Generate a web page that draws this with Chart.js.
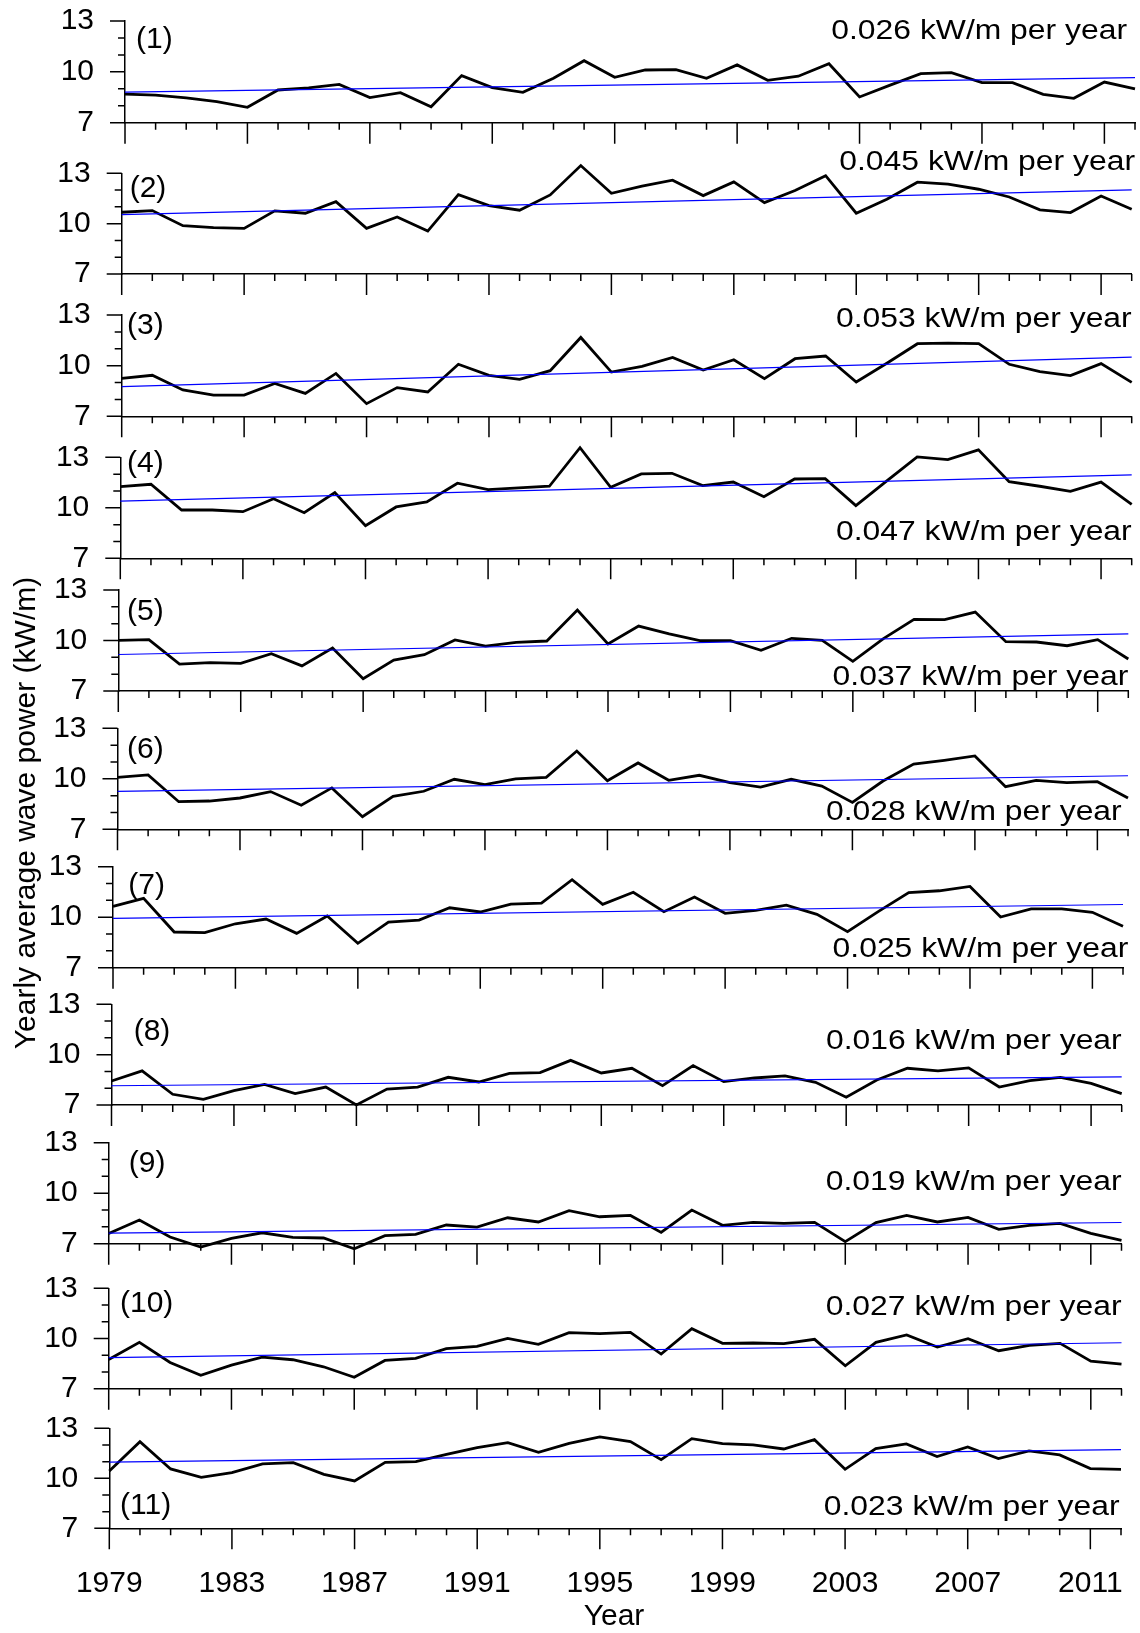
<!DOCTYPE html>
<html>
<head>
<meta charset="utf-8">
<title>Yearly average wave power</title>
<script src="https://cdn.jsdelivr.net/npm/chart.js@4.4.1/dist/chart.umd.min.js"></script>
<style>
  html, body { margin: 0; padding: 0; background: #fff; }
  #wrap { position: relative; width: 1140px; height: 1633px; }
  #wrap canvas { position: absolute; left: 0; top: 0; }
</style>
</head>
<body>
<div id="wrap"></div>
<script>
const years = [1979, 1980, 1981, 1982, 1983, 1984, 1985, 1986, 1987, 1988, 1989,
  1990, 1991, 1992, 1993, 1994, 1995, 1996, 1997, 1998, 1999, 2000,
  2001, 2002, 2003, 2004, 2005, 2006, 2007, 2008, 2009, 2010, 2011, 2012];

// yearly average wave power (kW/m) at each of the 11 points
const site1 = [8.69, 8.63, 8.46, 8.24, 7.91, 8.93, 9.05, 9.26, 8.48, 8.77, 7.94, 9.78, 9.07, 8.79, 9.62, 10.66, 9.68,
  10.11, 10.13, 9.62, 10.41, 9.50, 9.74, 10.48, 8.52, 9.22, 9.89, 9.95, 9.36, 9.36, 8.67, 8.44, 9.40, 8.99];
const site2 = [10.68, 10.78, 9.88, 9.76, 9.72, 10.76, 10.62, 11.31, 9.72, 10.40, 9.56, 11.73, 11.08, 10.80, 11.71, 13.46, 11.81,
  12.23, 12.59, 11.67, 12.49, 11.25, 11.97, 12.86, 10.62, 11.45, 12.47, 12.35, 12.05, 11.59, 10.82, 10.66, 11.65, 10.86];
const site3 = [9.25, 9.43, 8.56, 8.26, 8.26, 8.95, 8.36, 9.54, 7.75, 8.70, 8.44, 10.08, 9.43, 9.19, 9.70, 11.67, 9.62,
  9.96, 10.49, 9.74, 10.35, 9.23, 10.41, 10.57, 9.03, 10.14, 11.30, 11.34, 11.30, 10.08, 9.64, 9.41, 10.12, 9.01];
const site4 = [11.26, 11.40, 9.87, 9.87, 9.77, 10.54, 9.71, 10.90, 8.94, 10.05, 10.35, 11.46, 11.08, 11.18, 11.28, 13.57, 11.22,
  12.01, 12.05, 11.32, 11.53, 10.66, 11.71, 11.73, 10.13, 11.59, 13.02, 12.86, 13.44, 11.55, 11.28, 10.98, 11.53, 10.21];
const site5 = [10.01, 10.05, 8.60, 8.68, 8.64, 9.22, 8.49, 9.55, 7.73, 8.84, 9.16, 10.03, 9.67, 9.89, 9.97, 11.81, 9.79,
  10.86, 10.39, 9.99, 9.99, 9.42, 10.13, 10.01, 8.76, 10.11, 11.26, 11.24, 11.69, 9.93, 9.91, 9.69, 10.05, 8.90];
const site6 = [10.09, 10.23, 8.64, 8.68, 8.86, 9.24, 8.43, 9.46, 7.75, 8.96, 9.26, 9.97, 9.65, 9.99, 10.09, 11.65, 9.89,
  10.94, 9.91, 10.21, 9.77, 9.51, 9.97, 9.57, 8.60, 9.87, 10.88, 11.10, 11.36, 9.53, 9.91, 9.77, 9.83, 8.86];
const site7 = [10.64, 11.12, 9.12, 9.08, 9.61, 9.89, 9.04, 10.07, 8.45, 9.71, 9.83, 10.56, 10.31, 10.78, 10.84, 12.23, 10.76,
  11.48, 10.33, 11.20, 10.23, 10.41, 10.72, 10.17, 9.14, 10.33, 11.46, 11.57, 11.83, 10.01, 10.49, 10.49, 10.29, 9.46];
const site8 = [8.43, 9.03, 7.64, 7.34, 7.85, 8.23, 7.68, 8.07, 7.00, 7.95, 8.07, 8.65, 8.37, 8.89, 8.93, 9.66, 8.91,
  9.19, 8.15, 9.35, 8.39, 8.61, 8.73, 8.35, 7.46, 8.49, 9.19, 9.03, 9.21, 8.07, 8.45, 8.65, 8.29, 7.68];
const site9 = [7.61, 8.41, 7.40, 6.80, 7.32, 7.65, 7.38, 7.34, 6.70, 7.48, 7.55, 8.11, 7.99, 8.54, 8.29, 8.96, 8.60,
  8.68, 7.67, 9.00, 8.09, 8.27, 8.21, 8.27, 7.12, 8.25, 8.68, 8.29, 8.56, 7.85, 8.09, 8.21, 7.61, 7.20];
const site10 = [8.75, 9.77, 8.57, 7.80, 8.41, 8.89, 8.73, 8.31, 7.68, 8.69, 8.81, 9.39, 9.53, 10.01, 9.65, 10.35, 10.29,
  10.37, 9.07, 10.59, 9.71, 9.73, 9.69, 9.95, 8.37, 9.77, 10.21, 9.49, 9.99, 9.27, 9.59, 9.71, 8.65, 8.47];
const site11 = [10.44, 12.20, 10.56, 10.06, 10.34, 10.86, 10.94, 10.24, 9.84, 10.96, 11.00, 11.44, 11.84, 12.14, 11.56, 12.10, 12.48,
  12.20, 11.12, 12.38, 12.08, 12.00, 11.76, 12.32, 10.54, 11.78, 12.06, 11.30, 11.88, 11.18, 11.64, 11.40, 10.58, 10.54];

const series = [site1, site2, site3, site4, site5, site6, site7, site8, site9, site10, site11];
const trendSlopes = [0.026, 0.045, 0.053, 0.047, 0.037, 0.028, 0.025, 0.016, 0.019, 0.027, 0.023];
const yTicks = [7, 10, 13];

const W = 1140, H = 1633;
const FONT = "'Liberation Sans', Arial, Helvetica, sans-serif";

// plot box [left, top, right, bottom], panel tag [x, y], slope note [right x, y]
const layout = [
  { box: [125, 21, 1135, 122.7],        tag: [136, 41.5],    note: [1127, 31.2] },
  { box: [121.7, 173.3, 1131.7, 274],   tag: [129.7, 190.5], note: [1135, 162.7] },
  { box: [121.7, 315, 1131.7, 416.3],   tag: [127, 327.5],   note: [1131.7, 319.2] },
  { box: [120.3, 457.3, 1131.7, 558.3], tag: [127, 465.5],   note: [1131.7, 532.3] },
  { box: [118.3, 590, 1128.3, 691],     tag: [127, 614],     note: [1128.3, 677.3] },
  { box: [117.5, 728.3, 1128, 829.3],   tag: [127, 751.7],   note: [1121.7, 812.5] },
  { box: [113, 866.7, 1123, 967.7],     tag: [128.3, 887.5], note: [1128.3, 950] },
  { box: [111.5, 1004.3, 1121.7, 1105], tag: [133.7, 1033.3], note: [1121.7, 1042] },
  { box: [108.7, 1142.7, 1121.5, 1243.7], tag: [128.8, 1165.8], note: [1121.5, 1183] },
  { box: [108.7, 1288.3, 1121.5, 1388.7], tag: [120, 1305.8], note: [1121.5, 1307.5] },
  { box: [109.3, 1428.3, 1121, 1528.3], tag: [120, 1507.5],  note: [1119.5, 1507.5] }
];

// trend line with the given slope, passing through the series mean
function trendLine(vals, slope) {
  const mx = years.reduce((s, v) => s + v, 0) / years.length;
  const my = vals.reduce((s, v) => s + v, 0) / vals.length;
  const b = my - slope * mx;
  const x0 = years[0], x1 = years[years.length - 1];
  return [{ x: x0, y: b + slope * x0 }, { x: x1, y: b + slope * x1 }];
}

// long/short tick marks on both axes
const tickMarks = {
  id: 'tickMarks',
  afterDraw(chart) {
    const { ctx, chartArea: a } = chart;
    const xs = chart.scales.x, ys = chart.scales.y;
    ctx.save();
    ctx.strokeStyle = '#000';
    ctx.lineWidth = 1.5;
    ctx.beginPath();
    years.forEach(yr => {
      const px = xs.getPixelForValue(yr);
      const len = (yr - years[0]) % 4 === 0 ? 21 : 7;
      ctx.moveTo(px, a.bottom);
      ctx.lineTo(px, a.bottom + len);
    });
    for (let v = yTicks[0]; v <= yTicks[yTicks.length - 1]; v++) {
      const py = ys.getPixelForValue(v);
      const len = yTicks.includes(v) ? 15 : 7;
      ctx.moveTo(a.left, py);
      ctx.lineTo(a.left - len, py);
    }
    ctx.stroke();
    ctx.restore();
  }
};

// "(n)" tag and the trend note of each panel
const panelText = {
  id: 'panelText',
  afterDraw(chart, args, opts) {
    const ctx = chart.ctx;
    ctx.save();
    ctx.fillStyle = '#000';
    ctx.textBaseline = 'middle';
    ctx.font = '30px ' + FONT;
    ctx.textAlign = 'left';
    ctx.fillText(opts.tag, opts.tagX, opts.tagY - 2);
    ctx.font = '27px ' + FONT;
    ctx.translate(opts.noteX, opts.noteY);
    ctx.scale(1.18, 1);
    ctx.textAlign = 'right';
    ctx.fillText(opts.note, 0, 0);
    ctx.restore();
  }
};

// shared axis titles, drawn once on the bottom panel
const axisTitles = {
  id: 'axisTitles',
  afterDraw(chart) {
    const ctx = chart.ctx;
    ctx.save();
    ctx.fillStyle = '#000';
    ctx.font = '30px ' + FONT;
    ctx.textAlign = 'center';
    ctx.textBaseline = 'middle';
    ctx.fillText('Year', 614, 1617);
    ctx.translate(27, 813);
    ctx.rotate(-Math.PI / 2);
    ctx.fillText('Yearly average wave power (kW/m)', 0, 0);
    ctx.restore();
  }
};

const wrap = document.getElementById('wrap');
const hidden = 'rgba(0,0,0,0)';

series.forEach((vals, i) => {
  const [L, T, R, B] = layout[i].box;
  const last = i === series.length - 1;
  const canvas = document.createElement('canvas');
  canvas.width = W;
  canvas.height = H;
  wrap.appendChild(canvas);

  const plugins = [tickMarks, panelText];
  if (last) plugins.push(axisTitles);

  new Chart(canvas, {
    type: 'line',
    data: {
      datasets: [
        {
          data: trendLine(vals, trendSlopes[i]),
          borderColor: '#0000ff',
          borderWidth: 1.2,
          pointRadius: 0,
          clip: 20
        },
        {
          data: years.map((yr, k) => ({ x: yr, y: vals[k] })),
          borderColor: '#000',
          borderWidth: 2.8,
          pointRadius: 0,
          tension: 0,
          clip: 20
        }
      ]
    },
    options: {
      responsive: false,
      animation: false,
      events: [],
      layout: { padding: { left: L - 100, top: T, right: W - R, bottom: H - B - 100 } },
      plugins: {
        legend: { display: false },
        tooltip: { enabled: false },
        panelText: {
          tag: '(' + (i + 1) + ')',
          tagX: layout[i].tag[0], tagY: layout[i].tag[1],
          note: trendSlopes[i].toFixed(3) + ' kW/m per year',
          noteX: layout[i].note[0], noteY: layout[i].note[1]
        }
      },
      scales: {
        x: {
          type: 'linear',
          min: years[0],
          max: years[years.length - 1],
          afterFit: s => { s.height = 100; },
          // the invisible tick length sets the label gap below the axis
          grid: { drawOnChartArea: false, drawTicks: true, tickLength: 37, tickColor: hidden },
          border: { color: '#000', width: 1.5 },
          ticks: {
            display: last,
            stepSize: 1,
            autoSkip: false,
            maxRotation: 0,
            padding: 0,
            color: '#000',
            font: { family: FONT, size: 30 },
            callback: v => ((v - years[0]) % 4 === 0 ? String(v) : '')
          }
        },
        y: {
          min: yTicks[0],
          max: yTicks[yTicks.length - 1],
          afterFit: s => { s.width = 100; },
          afterBuildTicks: s => { s.ticks = yTicks.map(v => ({ value: v })); },
          grid: { drawOnChartArea: false, drawTicks: true, tickLength: 31, tickColor: hidden },
          border: { color: '#000', width: 1.5 },
          ticks: {
            autoSkip: false,
            padding: 0,
            color: '#000',
            font: { family: FONT, size: 30 }
          }
        }
      }
    },
    plugins: plugins
  });
});
</script>
</body>
</html>
